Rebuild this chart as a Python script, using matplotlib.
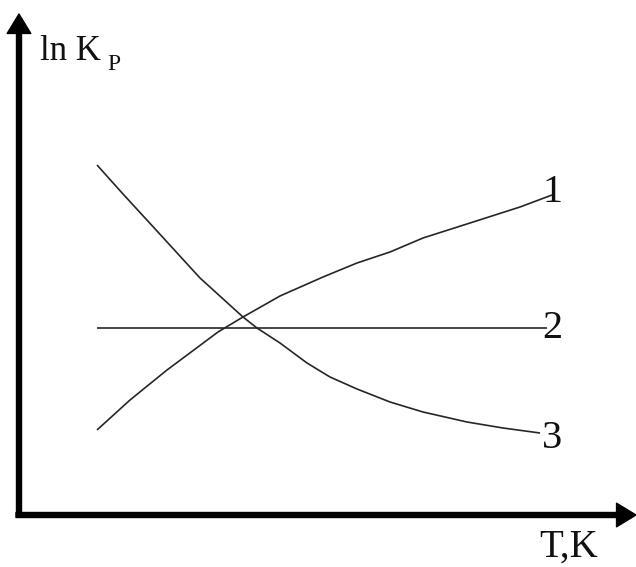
import matplotlib
matplotlib.use("Agg")
import matplotlib.pyplot as plt

# Schematic dependence of ln Kp on temperature (arbitrary units)
T_axis_origin = (19, 52)
T_axis_end = 636
lnK_axis_end = 553

# Curve 1: ln Kp rising with T
T1 = [97, 130, 167, 218, 243, 280, 323, 357, 390, 423, 470, 520, 552]
lnK1 = [137, 167, 197, 235, 250, 271, 290, 304, 315, 329, 344, 360, 372]

# Curve 2: ln Kp independent of T
T2 = [97, 547]
lnK2 = [239, 239]

# Curve 3: ln Kp falling with T
T3 = [97, 123, 157, 200, 243, 257, 280, 307, 330, 357, 390, 423, 467, 503, 540]
lnK3 = [402, 373, 336, 289, 250, 239, 224, 204, 190, 178, 165, 155, 145, 139, 134]

curve_labels = ["1", "2", "3"]
label_pos_T = [553, 552, 552]
label_pos_lnK = [375, 238, 128]

fig = plt.figure(figsize=(6.36, 5.67), dpi=100)
ax = fig.add_axes([0, 0, 1, 1])
ax.set_xlim(0, 636)
ax.set_ylim(0, 567)
ax.axis("off")

line_kw = dict(color="#262626", lw=1.2, solid_capstyle="butt")
ax.plot(T1, lnK1, **line_kw)
ax.plot(T2, lnK2, **line_kw)
ax.plot(T3, lnK3, **line_kw)

serif = ["Liberation Serif", "DejaVu Serif"]
for lab, x, y in zip(curve_labels, label_pos_T, label_pos_lnK):
    ax.text(x, y, lab, fontsize=29, family=serif, ha="center", va="center",
            color="#111111")

# Axes with arrow heads
x0, y0 = T_axis_origin
arrow_kw = dict(facecolor="black", edgecolor="black", width=3.6,
                headwidth=17, headlength=14, shrink=0)
ax.annotate("", xy=(T_axis_end, y0), xytext=(x0 - 3, y0),
            arrowprops=arrow_kw)
ax.annotate("", xy=(x0, lnK_axis_end), xytext=(x0, y0 - 2),
            arrowprops=arrow_kw)

ax.text(40, 507, "ln K", fontsize=25, family=serif, ha="left",
        va="baseline", color="#111111")
ax.text(107, 497, "P", fontsize=17, family=serif, ha="left",
        va="baseline", color="#111111")
ax.text(569, 10, "T,K", fontsize=28, family=serif, ha="center",
        va="baseline", color="#111111")

fig.savefig("out.png", dpi=100)
